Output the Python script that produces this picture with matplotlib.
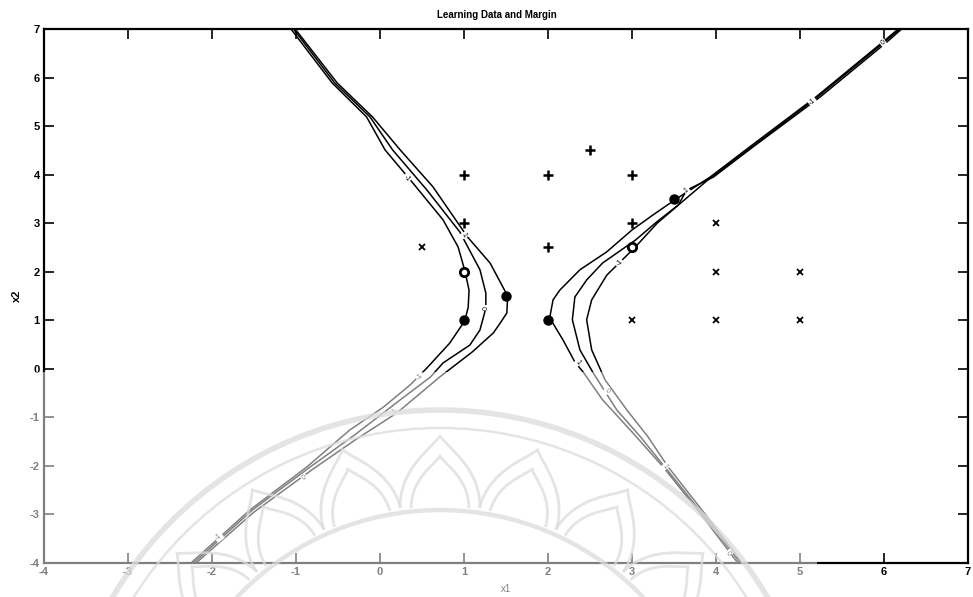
import matplotlib
matplotlib.use('Agg')
import matplotlib.pyplot as plt
from matplotlib.patches import Rectangle, Arc, PathPatch
from matplotlib.path import Path
import matplotlib.transforms as mtransforms

plt.rcParams['font.family'] = ['Liberation Sans', 'DejaVu Sans']
plt.rcParams['axes.unicode_minus'] = False

# learning data
plus_x = [1, 2, 3, 2.5, 1, 3, 2]
plus_y = [4, 4, 4, 4.5, 3, 3, 2.5]
cross_x = [0.5, 4, 4, 5, 3, 4, 5]
cross_y = [2.5, 3, 2, 2, 1, 1, 1]
# support vectors
sv_fill_x = [1, 1.5, 2, 3.5]
sv_fill_y = [1, 1.5, 1, 3.5]
sv_open_x = [1, 3]
sv_open_y = [2, 2.5]

# margin curves (left branch / right branch)
left_out_x = [-1.06, -0.57, -0.16, 0.06, 0.39, 0.75, 0.93, 1.01, 1.06, 1.05, 1.01, 0.83, 0.56, 0.36, 0.04, -0.36, -0.87, -1.55, -2.25]
left_out_y = [7.0, 5.89, 5.19, 4.51, 3.83, 3.07, 2.51, 2.02, 1.62, 1.27, 0.99, 0.53, 0.02, -0.33, -0.79, -1.26, -2.02, -2.91, -4.0]
left_mid_x = [-1.03, -0.54, -0.12, 0.15, 0.56, 0.95, 1.19, 1.26, 1.26, 1.19, 1.07, 0.75, 0.60, 0.24, -0.30, -0.83, -1.52, -2.22]
left_mid_y = [7.0, 5.89, 5.19, 4.51, 3.68, 2.82, 2.04, 1.56, 1.25, 0.80, 0.49, 0.12, -0.17, -0.64, -1.36, -2.02, -2.91, -4.0]
left_in_x = [-1.01, -0.51, -0.09, 0.24, 0.63, 1.04, 1.31, 1.52, 1.51, 1.43, 1.35, 1.10, 0.71, 0.20, -0.30, -0.81, -1.50, -2.19]
left_in_y = [7.0, 5.89, 5.19, 4.51, 3.75, 2.72, 2.18, 1.50, 1.15, 0.94, 0.74, 0.35, -0.17, -0.91, -1.47, -2.08, -2.95, -4.0]

right_in_x = [6.17, 5.97, 5.19, 4.40, 3.93, 3.51, 3.25, 3.00, 2.70, 2.38, 2.14, 2.06, 2.02, 2.18, 2.32, 2.42, 2.65, 3.01, 3.37, 3.81, 4.26]
right_in_y = [7.0, 6.71, 5.60, 4.57, 3.95, 3.48, 3.17, 2.86, 2.41, 2.04, 1.62, 1.42, 1.05, 0.59, 0.14, -0.07, -0.64, -1.32, -2.02, -2.97, -4.0]
right_mid_x = [6.19, 5.99, 5.21, 4.41, 3.93, 3.57, 3.29, 3.04, 2.65, 2.46, 2.32, 2.29, 2.38, 2.54, 2.82, 3.10, 3.39, 3.83, 4.29]
right_mid_y = [7.0, 6.71, 5.60, 4.55, 3.93, 3.40, 3.02, 2.65, 2.18, 1.83, 1.48, 1.01, 0.39, -0.09, -0.85, -1.40, -2.02, -2.97, -4.0]
right_out_x = [6.21, 6.02, 5.24, 4.44, 3.97, 3.65, 3.55, 3.30, 3.04, 2.70, 2.52, 2.46, 2.52, 2.68, 2.94, 3.19, 3.43, 3.86, 4.31]
right_out_y = [7.0, 6.71, 5.60, 4.57, 3.95, 3.68, 3.37, 3.00, 2.51, 1.93, 1.42, 1.01, 0.39, -0.23, -0.85, -1.40, -2.02, -2.97, -4.0]

# inline contour labels
lab_text = ['-1', '-1', '0', '1', '1', '1', '0', '-1', '1', '0', '-1', '-1', '0', '1', '0']
lab_x = [0.32, 0.48, 1.26, 1.0, 0.18, 2.35, 2.70, 2.85, 3.65, 5.99, 5.15, -1.92, -0.90, 3.39, 4.15]
lab_y = [3.93, -0.17, 1.25, 2.75, -0.89, 0.12, -0.46, 2.18, 3.68, 6.71, 5.50, -3.46, -2.25, -2.02, -3.80]
lab_rot = [-50, 45, 90, -60, 45, -50, -55, 45, 36, 37, 37, 37, 37, -52, -52]

fig = plt.figure(figsize=(9.73, 5.97), dpi=100)
ax = fig.add_axes([44 / 973, 34 / 597, 924 / 973, 534 / 597])

for cx, cy in [(left_out_x, left_out_y), (left_mid_x, left_mid_y), (left_in_x, left_in_y),
               (right_in_x, right_in_y), (right_mid_x, right_mid_y), (right_out_x, right_out_y)]:
    ax.plot(cx, cy, color='black', lw=1.1, solid_joinstyle='round')

for t, x, y, r in zip(lab_text, lab_x, lab_y, lab_rot):
    ax.text(x, y, t, fontsize=5, rotation=r, ha='center', va='center',
            bbox=dict(boxstyle='square,pad=0.15', fc='white', ec='none'))

ax.plot(plus_x, plus_y, '+', color='black', ms=7, mew=1.8)
ax.plot(cross_x, cross_y, 'x', color='black', ms=4, mew=1.3)
ax.plot(sv_fill_x, sv_fill_y, 'o', color='black', ms=6.5)
ax.plot(sv_open_x, sv_open_y, 'o', mfc='white', mec='black', ms=6, mew=2)

ax.set_xlim(-4, 7)
ax.set_ylim(-4, 7)
ax.set_xticks(range(-4, 8))
ax.set_yticks(range(-4, 8))
ax.tick_params(direction='in', length=7, width=1.2, top=True, right=True,
               labelsize=8, pad=3)
for lab in ax.get_xticklabels() + ax.get_yticklabels():
    lab.set_fontweight('bold')
for sp in ax.spines.values():
    sp.set_linewidth(1.6)
ax.set_title('Learning Data and Margin', fontsize=7, fontweight='bold', x=0.49, pad=8)
ax.set_xlabel('x1', fontsize=7, labelpad=5)
ax.set_ylabel('x2', fontsize=8, fontweight='bold')
ax.yaxis.set_label_coords(-22 / 924, 0.5)

# scanned watermark in the lower part of the page
ov = fig.add_axes([0, 0, 1, 1], zorder=5)
ov.set_xlim(0, 973)
ov.set_ylim(597, 0)
ov.axis('off')
ov.patch.set_visible(False)
ov.add_patch(Rectangle((0, 372), 817, 230, fc='white', ec='none', alpha=0.5))

wm = '#dcdcdc'
cxp, cyp = 440, 790
wm_kw = dict(color=wm, alpha=0.75)
ov.add_patch(Arc((cxp, cyp), 760, 760, theta1=180, theta2=360, lw=4, **wm_kw))
ov.add_patch(Arc((cxp, cyp), 724, 724, theta1=180, theta2=360, lw=1.8, **wm_kw))
ov.add_patch(Arc((cxp, cyp), 560, 560, theta1=180, theta2=360, lw=3.2, **wm_kw))

petal = Path([(-40, 0), (-40, -40), (-10, -58), (0, -72), (10, -58), (40, -40), (40, 0)],
             [Path.MOVETO, Path.CURVE4, Path.CURVE4, Path.CURVE4, Path.CURVE4, Path.CURVE4, Path.CURVE4])
for a in [-64, -48, -32, -16, 0, 16, 32, 48, 64]:
    base = mtransforms.Affine2D().rotate_deg(a).translate(cxp, cyp) + ov.transData
    for s in [1.0, 0.72]:
        tr = mtransforms.Affine2D().scale(s).translate(0, -282) + base
        ov.add_patch(PathPatch(petal, transform=tr, fc='none', ec=wm, alpha=0.75, lw=2))

fig.savefig('out.png', dpi=100)
